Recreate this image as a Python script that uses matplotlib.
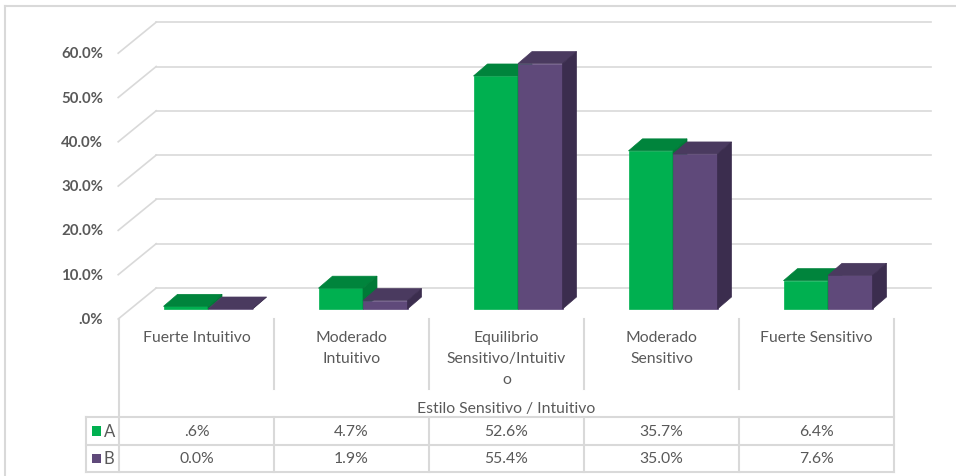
import matplotlib
matplotlib.use("Agg")
import matplotlib.pyplot as plt
from matplotlib.patches import Polygon, Rectangle

# data
categorias = ["Fuerte Intuitivo", "Moderado\nIntuitivo", "Equilibrio\nSensitivo/Intuitiv\no",
              "Moderado\nSensitivo", "Fuerte Sensitivo"]
serie_a = [0.6, 4.7, 52.6, 35.7, 6.4]
serie_b = [0.0, 1.9, 55.4, 35.0, 7.6]
tabla_a = [".6%", "4.7%", "52.6%", "35.7%", "6.4%"]
tabla_b = ["0.0%", "1.9%", "55.4%", "35.0%", "7.6%"]
ticks = [0, 10, 20, 30, 40, 50, 60]
tick_labels = [".0%", "10.0%", "20.0%", "30.0%", "40.0%", "50.0%", "60.0%"]
titulo_x = "Estilo Sensitivo / Intuitivo"

plt.rcParams['font.family'] = ['Lato', 'DejaVu Sans']
gris = '#595959'
linea = '#D9D9D9'
verde = ('#00B050', '#00843C', '#007A37')      # frente, arriba, lado
morado = ('#5F497A', '#4A3A5F', '#3B2D4E')
fs = 11.3

W, H = 956, 477
fig = plt.figure(figsize=(W / 100, H / 100), dpi=100)

# eje principal (plano frontal de las barras)
px_x, px_y = 155.0, 4.43
ax = fig.add_axes([130.5 / W, (H - 310) / H, 775 / W, 60 * px_y / H])
ax.set_xlim(-0.5, 4.5)
ax.set_ylim(0, 60)
ax.axis('off')
ux, uy = 1 / px_x, 1 / px_y
back = (25.7 * ux, 21 * uy)
front = (-12.3 * ux, -10 * uy)
prof = (14 * ux, 12 * uy)
ancho = 44.5 * ux

for t, lab in zip(ticks, tick_labels):
    ax.plot([-0.5 + back[0], 4.5 + back[0]], [t + back[1]] * 2, color=linea, lw=1.2,
            clip_on=False, zorder=1)
    ax.plot([-0.5 + front[0], -0.5 + back[0]], [t + front[1], t + back[1]], color=linea,
            lw=1.2, clip_on=False, zorder=1)
    ax.text(-0.5 + front[0] - 15 * ux, t + front[1], lab, ha='right', va='center',
            fontsize=10.8, fontweight='bold', color=gris, clip_on=False)


def barra(x0, v, cols):
    dx, dy = prof
    caras = [
        ([(x0, 0), (x0 + ancho, 0), (x0 + ancho, v), (x0, v)], cols[0]),
        ([(x0, v), (x0 + ancho, v), (x0 + ancho + dx, v + dy), (x0 + dx, v + dy)], cols[1]),
        ([(x0 + ancho, 0), (x0 + ancho + dx, dy), (x0 + ancho + dx, v + dy), (x0 + ancho, v)], cols[2]),
    ]
    for pts, c in caras:
        ax.add_patch(Polygon(pts, closed=True, facecolor=c, edgecolor=c, lw=0.5,
                             clip_on=False, zorder=3))


for i in range(len(categorias)):
    barra(i - ancho, serie_a[i], verde)
    barra(i, serie_b[i], morado)

# tabla de datos y marco (coordenadas en pixeles)
ov = fig.add_axes([0, 0, 1, 1])
ov.set_xlim(0, W)
ov.set_ylim(H, 0)
ov.axis('off')

ov.plot([5, W], [7, 7], color=linea, lw=1.5)
ov.plot([5, 5], [7, H], color=linea, lw=1.5)

cols = [119 + k * 155 for k in range(6)]
for k, xk in enumerate(cols):
    if k in (0, 5):
        ov.plot([xk, xk], [320, 473], color=linea, lw=1.5)
    else:
        ov.plot([xk, xk], [320, 390], color=linea, lw=1.5)
        ov.plot([xk, xk], [418, 473], color=linea, lw=1.5)
for yk in (418, 446, 473):
    ov.plot([86, cols[-1]], [yk, yk], color=linea, lw=1.5)
ov.plot([86, 86], [418, 473], color=linea, lw=1.5)

for k, lab in enumerate(categorias):
    cx = cols[k] + 77.5
    ov.text(cx, 331, lab, ha='center', va='top', fontsize=fs, color=gris,
            linespacing=1.65)
    ov.text(cx, 432, tabla_a[k], ha='center', va='center', fontsize=fs, color=gris)
    ov.text(cx, 459.5, tabla_b[k], ha='center', va='center', fontsize=fs, color=gris)

ov.text((cols[0] + cols[-1]) / 2, 409, titulo_x, ha='center', va='center',
        fontsize=fs, color=gris)

for yk, nombre, c in ((432, "A", verde[0]), (459.5, "B", morado[0])):
    ov.add_patch(Rectangle((92, yk - 4.8), 9.5, 9.5, facecolor=c, edgecolor='none'))
    ov.text(103.5, yk, nombre, ha='left', va='center', fontsize=12, color=gris)

fig.savefig("out.png", dpi=100)
